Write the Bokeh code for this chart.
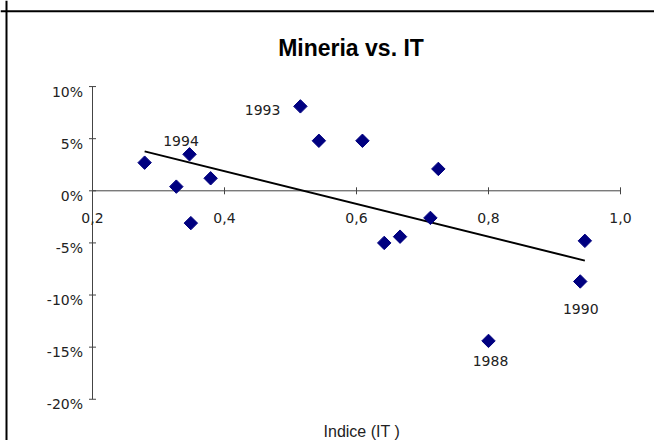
import numpy as np
from bokeh.plotting import figure
from bokeh.models import Range1d, Span, Label, ColumnDataSource
from bokeh.core.properties import value
from bokeh.embed import file_html
from bokeh.resources import INLINE

# ---------------- data ----------------
it_index = [0.279, 0.327, 0.347, 0.349, 0.379, 0.515, 0.543, 0.609,
            0.724, 0.712, 0.642, 0.666, 0.946, 0.939, 0.800]
mineria = [0.027, 0.004, 0.035, -0.031, 0.012, 0.081, 0.048, 0.048,
           0.021, -0.026, -0.050, -0.044, -0.048, -0.087, -0.144]
point_labels = ["", "", "1994", "", "", "1993", "", "",
                "", "", "", "", "", "1990", "1988"]
x_ticks = [0.2, 0.4, 0.6, 0.8, 1.0]
x_tick_labels = ["0,2", "0,4", "0,6", "0,8", "1,0"]
y_ticks = [-0.20, -0.15, -0.10, -0.05, 0.0, 0.05, 0.10]
y_tick_labels = ["-20%", "-15%", "-10%", "-5%", "0%", "5%", "10%"]
title_text = "Mineria vs. IT"
x_label_text = "Indice (IT )"

# ---------------- layout ----------------
W, H = 654, 440
PX_X = 660.0          # pixels per x unit
PX_Y = 1042.3         # pixels per y unit
AX_X_PX = 92.0        # canvas x of x = 0.2
AX_Y_PX = 190.3       # canvas y of y = 0
x0 = x_ticks[0] - AX_X_PX / PX_X
x1 = x0 + W / PX_X
y1 = AX_Y_PX / PX_Y
y0 = y1 - H / PX_Y


def dxp(px):
    return px / PX_X


def dyp(px):  # px downward -> data
    return -px / PX_Y


p = figure(width=W, height=H, x_range=Range1d(x0, x1), y_range=Range1d(y0, y1),
           output_backend="svg", toolbar_location=None,
           x_axis_location=None, y_axis_location=None,
           min_border=0, outline_line_color=None)
p.grid.visible = False
p.background_fill_color = "white"
p.border_fill_color = "white"

# outer chart border (left and top)
p.add_layout(Span(location=x0 + dxp(6.0), dimension="height", line_color="black", line_width=2))
p.add_layout(Span(location=y1 + dyp(10.7), dimension="width", line_color="black", line_width=2))

AXIS_COLOR = "#444444"
TEXT_COLOR = "#222222"
FONT = value("DejaVu Sans")

# y axis (at x = first x tick)
xa = x_ticks[0]
p.segment(x0=[xa], y0=[y_ticks[0]], x1=[xa], y1=[y_ticks[-1]], line_color=AXIS_COLOR, line_width=1)
p.segment(x0=[xa - dxp(3.5)] * len(y_ticks), y0=y_ticks,
          x1=[xa + dxp(3.5)] * len(y_ticks), y1=y_ticks, line_color=AXIS_COLOR, line_width=1)
p.text(x=[xa - dxp(9.5)] * len(y_ticks), y=[t + dyp(5.0) for t in y_ticks], text=y_tick_labels,
       text_font=FONT, text_font_size="14px", text_align="right", text_baseline="alphabetic",
       text_color=TEXT_COLOR)

# x axis (at y = 0)
p.segment(x0=[x_ticks[0]], y0=[0.0], x1=[x_ticks[-1]], y1=[0.0], line_color=AXIS_COLOR, line_width=1)
p.segment(x0=x_ticks, y0=[dyp(-3.5)] * len(x_ticks), x1=x_ticks, y1=[dyp(3.5)] * len(x_ticks),
          line_color=AXIS_COLOR, line_width=1)
p.text(x=x_ticks, y=[dyp(27.5)] * len(x_ticks), text=x_tick_labels,
       text_font=FONT, text_font_size="14px", text_align="center", text_baseline="alphabetic",
       text_color=TEXT_COLOR)

# trend line (least squares)
slope, intercept = np.polyfit(it_index, mineria, 1)
tx = [min(it_index), max(it_index)]
p.line(x=tx, y=[slope * v + intercept for v in tx], line_color="black", line_width=2)

# points
p.scatter(x=it_index, y=mineria, marker="square", angle=np.pi / 4, size=9.5,
          fill_color="#000080", line_color="#000080")

# point labels
label_offsets = {"1994": (-8.5, -13.5, "center"), "1993": (-20.0, 4.0, "right"),
                 "1990": (0.5, 27.5, "center"), "1988": (2.0, 20.0, "center")}
lx, ly, lt, la = [], [], [], []
for xv, yv, t in zip(it_index, mineria, point_labels):
    if t:
        ox, oy, al = label_offsets[t]
        lx.append(xv + dxp(ox))
        ly.append(yv + dyp(oy))
        lt.append(t)
        la.append(al)
src = ColumnDataSource(dict(x=lx, y=ly, text=lt, align=la))
p.text(x="x", y="y", text="text", text_align="align", source=src,
       text_font=FONT, text_font_size="14px", text_baseline="alphabetic", text_color=TEXT_COLOR)

# title and axis title
p.add_layout(Label(x=350.5, y=H - 47.7, x_units="screen", y_units="screen", text=title_text,
                   text_font="Liberation Sans", text_font_style="bold", text_font_size="23px",
                   text_align="center", text_baseline="alphabetic", text_color="black"))
p.add_layout(Label(x=361.3, y=H - 431.0, x_units="screen", y_units="screen", text=x_label_text,
                   text_font="Liberation Sans", text_font_size="16px",
                   text_align="center", text_baseline="alphabetic", text_color=TEXT_COLOR))

open("out.html", "w").write(file_html(p, INLINE))
